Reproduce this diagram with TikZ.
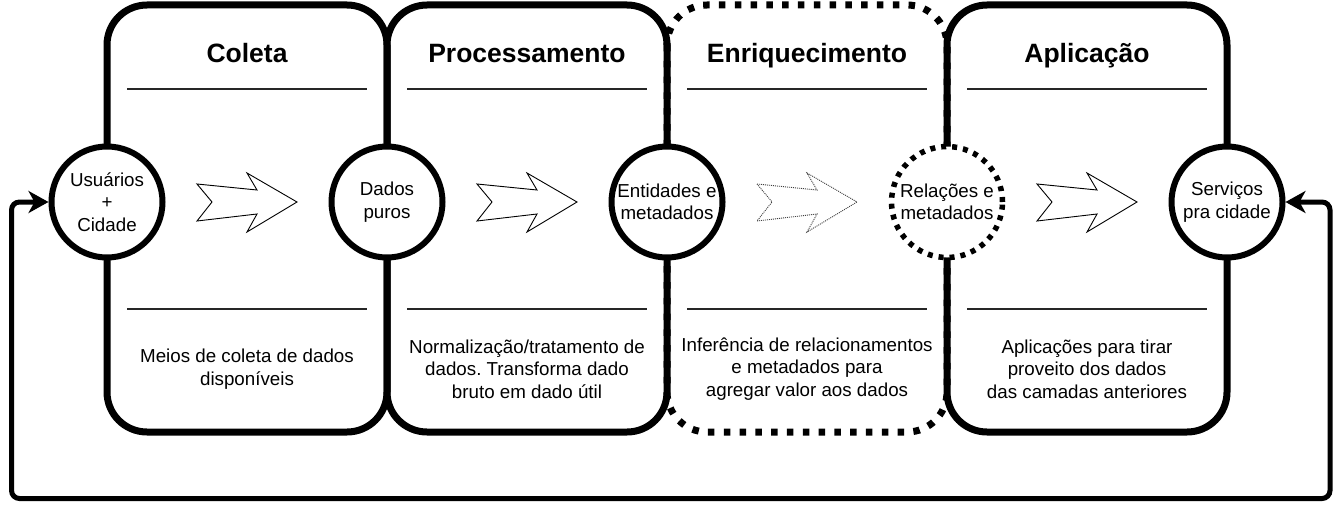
\documentclass[tikz,border=0pt]{standalone}
\usepackage{fontspec}
\setmainfont{Liberation Sans}
\usetikzlibrary{arrows.meta}
\frenchspacing
\begin{document}
\begin{tikzpicture}[x=1pt,y=-1pt,
  layerbox/.style={line width=7pt, rounded corners=40pt},
  dlayerbox/.style={layerbox, dash pattern=on 6.5pt off 9.3pt},
  sepline/.style={line width=1.5pt, black!85},
  titlef/.style={font=\fontsize{26.5}{30}\selectfont\bfseries, anchor=base},
  body/.style={font=\fontsize{18.75}{22.3}\selectfont, align=center},
  circ/.style={circle, draw, line width=6pt, fill=white, minimum size=111pt, inner sep=0pt, font=\fontsize{18.75}{22.5}\selectfont, align=center},
  dcirc/.style={circ, line width=5.5pt, dash pattern=on 5pt off 6pt},
  blk/.style={draw, line width=0.9pt, fill=white, line join=miter},
  blkd/.style={draw=black!75, line width=0.9pt, dash pattern=on 1pt off 1pt, fill=white},
  fb/.style={line width=5pt, rounded corners=8pt, {Stealth[length=20pt,width=22pt,inset=6pt]}-{Stealth[length=20pt,width=22pt,inset=6pt]}}
]
\useasboundingbox (0,0) rectangle (1343,511);

% layer boxes
\draw[dlayerbox] (667,5) rectangle (947,432);
\draw[layerbox] (107,5) rectangle (387,432);
\draw[layerbox] (387,5) rectangle (667,432);
\draw[layerbox] (947,5) rectangle (1227,432);

% separators
\foreach \x in {107,387,667,947} {
  \draw[sepline] (\x+20,89) -- (\x+260,89);
  \draw[sepline] (\x+20,309) -- (\x+260,309);
}

% titles
\node[titlef] (t1) at (247,63) {Coleta};
\node[titlef] (t2) at (527,63) {Processamento};
\node[titlef] (t3) at (807,63) {Enriquecimento};
\node[titlef] (t4) at (1087,63) {Aplicação};

% descriptions
\node[body] (d1) at (247,369) {Meios de coleta de dados\\disponíveis};
\node[body] (d2) at (527,369) {Normalização/tratamento de\\dados. Transforma dado\\bruto em dado útil};
\node[body] (d3) at (807,369) {Inferência de relacionamentos\\e metadados para\\agregar valor aos dados};
\node[body] (d4) at (1087,369) {Aplicações para tirar\\proveito dos dados\\das camadas anteriores};

% block arrows
\foreach \dx/\st in {0/blk,280/blk,560/blkd,840/blk} {
  \draw[\st, shift={(\dx,0)}] (197,184) -- (257,190) -- (247,173) -- (297,202)
     -- (247,232) -- (257,214) -- (197,221) -- (212,202) -- cycle;
}

% circles
\node[circ] (c1) at (107,202) {Usuários\\+\\Cidade};
\node[circ] (c2) at (387,202) {Dados\\puros};
\node[circ] (c3) at (667,202) {Entidades e\\metadados};
\node[dcirc] (c4) at (947,202) {Relações e\\metadados};
\node[circ] (c5) at (1227,202) {Serviços\\pra cidade};

% feedback loop
\coordinate (fbLB) at (11.5,498.5);
\coordinate (fbRB) at (1330,498.5);
\draw[fb] (c1.west) -| (fbLB) -- (fbRB) |- (c5.east);
\end{tikzpicture}
\end{document}
